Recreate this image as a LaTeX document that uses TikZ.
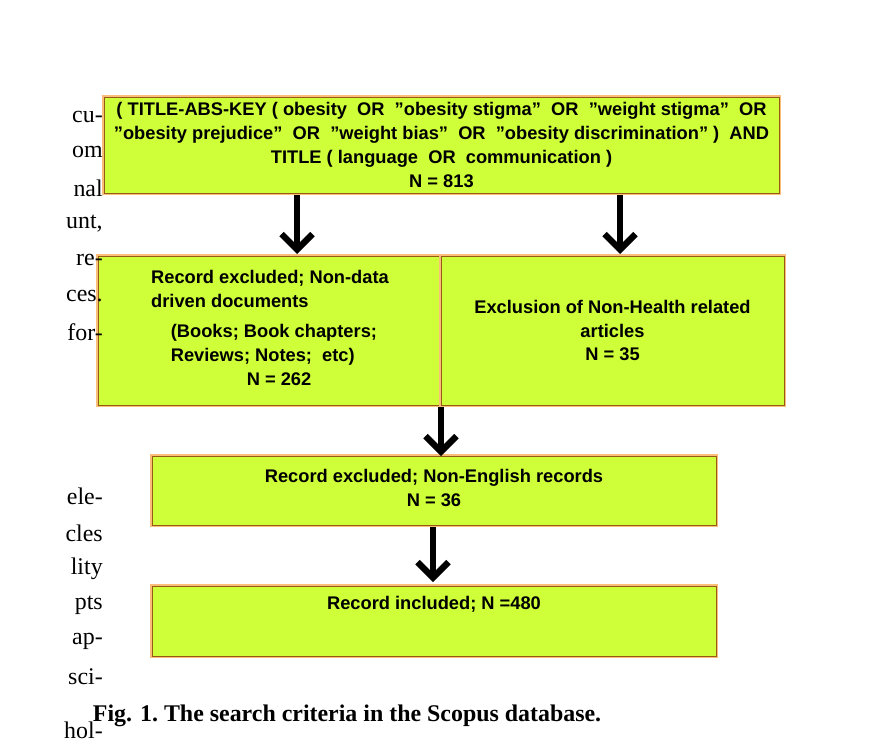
\documentclass[tikz,border=0pt]{standalone}
\usepackage{fontspec}
\setmainfont{Liberation Serif}
\setsansfont{Liberation Sans}
\usetikzlibrary{positioning, arrows.meta, calc}
\definecolor{boxfill}{RGB}{206,255,56}
\definecolor{boxedge}{RGB}{150,90,20}
\definecolor{glow}{RGB}{250,190,120}
\newcommand{\q}{\char34}
\begin{document}
\begin{tikzpicture}[x=0.025cm, y=-0.025cm, >=Stealth,
  every node/.style={font=\sffamily\bfseries\fontsize{13}{17}\selectfont, align=center},
  stepbox/.style={draw=boxedge, line width=0.5pt, fill=boxfill, align=center, inner sep=0pt,
    preaction={draw=glow, line width=3pt}},
  bigarrow/.style={-{Straight Barb[length=11pt, width=22pt, line width=4.5pt]}, line width=4.5pt},
  bodytext/.style={font=\rmfamily\fontsize{17}{20}\selectfont, anchor=east, inner sep=0pt}]
\useasboundingbox (0,0) rectangle (884,756);

% Query
\node (query) [stepbox, minimum width=675*0.025cm, minimum height=96*0.025cm] at (441.5,145) {};
\node at (441.5,145) {( TITLE-ABS-KEY ( obesity\ \ OR\ \ \q obesity stigma\q\ \ OR\ \ \q weight stigma\q\ \ OR\\
\q obesity prejudice\q\ \ OR\ \ \q weight bias\q\ \ OR\ \ \q obesity discrimination\q\ )\ \ AND\\
TITLE ( language\ \ OR\ \ communication )\\ N = 813};

% Exclusions
\node (nondata) [stepbox, minimum width=343*0.025cm, minimum height=149*0.025cm] at (269.5,330.5) {};
\node [align=left] at (270,328) {\hspace*{0pt}Record excluded; Non-data\\
\hspace*{0pt}driven documents\\[4pt]\hspace*{14pt}(Books; Book chapters;\\\hspace*{14pt}Reviews; Notes;\ \ etc)\\\hspace*{68pt}N = 262};
\node (nonhealth) [stepbox, minimum width=343*0.025cm, minimum height=149*0.025cm] at (612.5,330.5) {Exclusion of Non-Health related\\articles\\N = 35};

\node (nonenglish) [stepbox, minimum width=564*0.025cm, minimum height=69*0.025cm] at (434,490.5) {};
\node at (434,488) {Record excluded; Non-English records\\N = 36};

\node (included) [stepbox, minimum width=564*0.025cm, minimum height=70*0.025cm] at (434,621) {};
\node at (434,604) {Record included; N =480};

% Arrows
\draw[bigarrow] (297,195) -- (297,254);
\draw[bigarrow] (620,195) -- (620,254);
\draw[bigarrow] (441,407) -- (441,456);
\draw[bigarrow] (433,527) -- (433,582);

% Body text fragments
\foreach \y/\t in {117/cu-, 152/om, 188/nal, 224/{unt,}, 260/re-, 296/ces., 332/for-,
  496/ele-, 533/cles, 569/lity, 605/pts, 641/ap-, 677/sci-, 730/hol-}
  \node [bodytext] at (103,\y) {\t};

% Caption
\node (caption) [anchor=west, font=\rmfamily\bfseries\fontsize{17}{20}\selectfont] at (88,716) {Fig. 1.\ The search criteria in the Scopus database.};
\end{tikzpicture}
\end{document}
